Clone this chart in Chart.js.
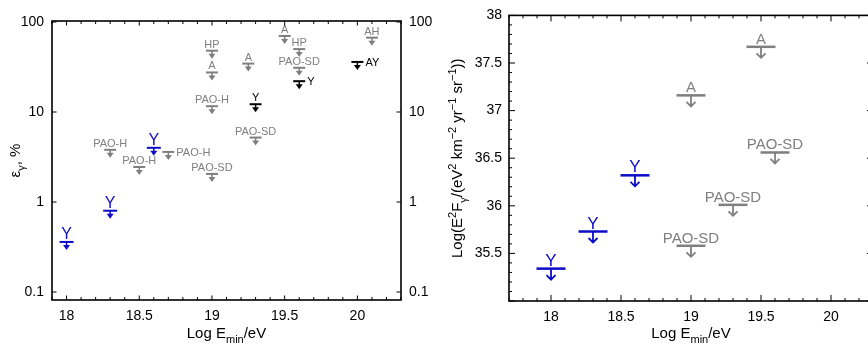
<!DOCTYPE html>
<html>
<head>
<meta charset="utf-8">
<script src="https://cdn.jsdelivr.net/npm/chart.js@4.4.0/dist/chart.umd.min.js"></script>
<style>
html, body { margin: 0; padding: 0; background: #fff; overflow: hidden; }
#leftBox { position: absolute; left: 0; top: 0; width: 440px; height: 347px; }
#rightBox { position: absolute; left: 440px; top: 0; width: 440px; height: 347px; }
</style>
</head>
<body>
<div id="leftBox"><canvas id="leftChart" width="440" height="347"></canvas></div>
<div id="rightBox"><canvas id="rightChart" width="440" height="347"></canvas></div>
<script>
// ---- left panel: photon fraction upper limits, %
const leftBlueX = [18, 18.3, 18.6];
const leftBlueY = [0.36, 0.8, 4.0];
const leftBlueText = ['Y', 'Y', 'Y'];

const leftBlackX = [19.3, 19.6, 20.0];
const leftBlackY = [12.2, 22, 36];
const leftBlackText = ['Y', 'Y', 'AY'];

const leftGrayX = [18.3, 18.5, 18.7, 19, 19, 19, 19, 19.25, 19.3, 19.5, 19.6, 19.6, 20.1];
const leftGrayY = [3.8, 2.45, 3.6, 48, 27.5, 11.6, 2.05, 34.5, 5.2, 70, 50, 31, 67];
const leftGrayText = ['PAO-H', 'PAO-H', 'PAO-H', 'HP', 'A', 'PAO-H', 'PAO-SD', 'A', 'PAO-SD', 'A', 'HP', 'PAO-SD', 'AH'];

const leftTicksX = [18, 18.5, 19, 19.5, 20];
const leftTicksY = [0.1, 1, 10, 100];

// ---- right panel: log of integral photon flux upper limits
const rightBlueX = [18, 18.3, 18.6];
const rightBlueY = [35.34, 35.73, 36.32];
const rightBlueText = ['Y', 'Y', 'Y'];

const rightGrayX = [19, 19.5, 19, 19.3, 19.6];
const rightGrayY = [37.16, 37.67, 35.58, 36.01, 36.56];
const rightGrayText = ['A', 'A', 'PAO-SD', 'PAO-SD', 'PAO-SD'];

const rightTicksX = [18, 18.5, 19, 19.5, 20];
const rightTicksY = [35.5, 36, 36.5, 37, 37.5, 38];

// labels drawn to the right of the marker instead of above (indices)
const leftGraySide = [2];
const leftBlackSide = [1, 2];

const GRAY = '#7f7f7f';
const BLUE = '#0b0bc8';
const BLACK = '#000000';
const FONT = "'Liberation Sans', Arial, Helvetica, sans-serif";

Chart.defaults.font.family = FONT;
Chart.defaults.font.size = 14;
Chart.defaults.color = '#000';

function pts(xs, ys) {
    return xs.map((x, i) => ({ x: x, y: ys[i] }));
}

function limitSet(xs, ys, text, color, look, side) {
    return {
        data: pts(xs, ys),
        pointRadius: 0,
        showLine: false,
        text: text,
        color: color,
        look: look,
        side: side || []
    };
}

function drawLimit(ctx, x, y, look, color) {
    ctx.save();
    ctx.strokeStyle = color;
    ctx.fillStyle = color;
    ctx.beginPath();
    ctx.lineWidth = look.lw;
    ctx.moveTo(x - look.bar / 2, y);
    ctx.lineTo(x + look.bar / 2, y);
    ctx.stroke();
    if (look.big) {
        ctx.lineWidth = 1.8;
        ctx.beginPath();
        ctx.moveTo(x, y);
        ctx.lineTo(x, y + 11);
        ctx.moveTo(x - 4.5, y + 6.5);
        ctx.lineTo(x, y + 11);
        ctx.lineTo(x + 4.5, y + 6.5);
        ctx.stroke();
    } else {
        ctx.lineWidth = 1.5;
        ctx.beginPath();
        ctx.moveTo(x, y);
        ctx.lineTo(x, y + 4);
        ctx.stroke();
        ctx.beginPath();
        ctx.moveTo(x - 3.5, y + 3);
        ctx.lineTo(x + 3.5, y + 3);
        ctx.lineTo(x, y + 8);
        ctx.closePath();
        ctx.fill();
    }
    ctx.restore();
}

// upper-limit markers with their experiment labels
const limitPlugin = {
    id: 'limits',
    afterDatasetsDraw(chart) {
        const ctx = chart.ctx;
        chart.data.datasets.forEach((ds, i) => {
            const meta = chart.getDatasetMeta(i);
            meta.data.forEach((pt, j) => {
                drawLimit(ctx, pt.x, pt.y, ds.look, ds.color);
                ctx.save();
                ctx.fillStyle = ds.color;
                ctx.font = ds.look.font + 'px ' + FONT;
                if (ds.side.includes(j)) {
                    ctx.textAlign = 'left';
                    ctx.textBaseline = 'middle';
                    ctx.fillText(ds.text[j], pt.x + ds.look.bar / 2 + 2, pt.y + 1);
                } else {
                    ctx.textAlign = 'center';
                    ctx.textBaseline = 'alphabetic';
                    ctx.fillText(ds.text[j], pt.x, pt.y - ds.look.gap);
                }
                ctx.restore();
            });
        });
    }
};

// frame and inward tick marks
const framePlugin = {
    id: 'frame',
    afterDraw(chart) {
        const ctx = chart.ctx;
        const a = chart.chartArea;
        const o = chart.options.plugins.frame;
        ctx.save();
        ctx.strokeStyle = '#000';
        ctx.lineWidth = 1;
        const xs = chart.scales.x;
        for (let k = Math.ceil(xs.min * 10 - 1e-6); k <= Math.floor(xs.max * 10 + 1e-6); k++) {
            const v = k / 10;
            const len = (k % 5 === 0) ? o.major : o.minor;
            const px = xs.getPixelForValue(v);
            ctx.beginPath();
            ctx.moveTo(px, a.bottom); ctx.lineTo(px, a.bottom - len);
            ctx.moveTo(px, a.top); ctx.lineTo(px, a.top + len);
            ctx.stroke();
        }
        const ys = chart.scales.y;
        let yv = [];
        if (ys.type === 'logarithmic') {
            ys.ticks.forEach(t => yv.push([t.value, o.major]));
        } else {
            for (let k = Math.ceil(ys.min * 10 - 1e-6); k <= Math.floor(ys.max * 10 + 1e-6); k++) {
                yv.push([k / 10, (k % 5 === 0) ? o.major : o.minor]);
            }
        }
        yv.forEach(([v, len]) => {
            const py = ys.getPixelForValue(v);
            ctx.beginPath();
            ctx.moveTo(a.left, py); ctx.lineTo(a.left + len, py);
            ctx.moveTo(a.right, py); ctx.lineTo(a.right - len, py);
            ctx.stroke();
        });
        ctx.lineWidth = 1.6;
        ctx.strokeRect(a.left, a.top, a.right - a.left, a.bottom - a.top);
        ctx.restore();
        drawRich(ctx, o.xTitle, (a.left + a.right) / 2, o.xTitleY, false, o.titleSize);
        drawRich(ctx, o.yTitle, o.yTitleX, (a.top + a.bottom) / 2, true, o.titleSize);
    }
};

// text with sub/superscripts, centred at (cx, cy)
function drawRich(ctx, segs, cx, cy, rotate, size) {
    const small = Math.round(size * 0.7);
    ctx.save();
    ctx.fillStyle = '#000';
    ctx.textBaseline = 'alphabetic';
    ctx.textAlign = 'left';
    let total = 0;
    const widths = segs.map(s => {
        ctx.font = (s.s ? small : size) + 'px ' + FONT;
        const w = ctx.measureText(s.t).width;
        total += w;
        return w;
    });
    ctx.translate(cx, cy);
    if (rotate) ctx.rotate(-Math.PI / 2);
    let x = -total / 2;
    const base = size * 0.36;
    segs.forEach((s, i) => {
        ctx.font = (s.s ? small : size) + 'px ' + FONT;
        let dy = base;
        if (s.s === 'sub') dy += size * 0.3;
        if (s.s === 'sup') dy -= size * 0.42;
        ctx.fillText(s.t, x, dy);
        x += widths[i];
    });
    ctx.restore();
}

function fixed(size, prop) {
    return function (axis) { axis[prop] = size; };
}

const xTitle = [{ t: 'Log E' }, { t: 'min', s: 'sub' }, { t: '/eV' }];

const smallGray = { bar: 12, lw: 2, big: false, font: 11, gap: 3 };
const smallBlue = { bar: 14, lw: 2, big: false, font: 16, gap: 3 };
const smallBlack = { bar: 12, lw: 2, big: false, font: 11, gap: 3 };
const bigGray = { bar: 29, lw: 2.5, big: true, font: 15, gap: 3 };
const bigBlue = { bar: 29, lw: 2.5, big: true, font: 17, gap: 3 };

new Chart(document.getElementById('leftChart'), {
    type: 'scatter',
    data: {
        datasets: [
            limitSet(leftGrayX, leftGrayY, leftGrayText, GRAY, smallGray, leftGraySide),
            limitSet(leftBlackX, leftBlackY, leftBlackText, BLACK, smallBlack, leftBlackSide),
            limitSet(leftBlueX, leftBlueY, leftBlueText, BLUE, smallBlue)
        ]
    },
    options: {
        responsive: false,
        animation: false,
        layout: { padding: { top: 21, left: 0, right: 0, bottom: 0 } },
        plugins: {
            legend: { display: false },
            tooltip: { enabled: false },
            frame: {
                major: 4.5, minor: 3,
                xTitle: xTitle, xTitleY: 333,
                yTitle: [{ t: 'ε' }, { t: 'γ', s: 'sub' }, { t: ', %' }], yTitleX: 15,
                titleSize: 15
            }
        },
        scales: {
            x: {
                type: 'linear', min: 17.9, max: 20.3,
                afterBuildTicks: axis => { axis.ticks = leftTicksX.map(v => ({ value: v })); },
                afterFit: fixed(47, 'height'),
                ticks: { padding: 8, callback: v => String(v) },
                grid: { display: false, drawTicks: false },
                border: { display: false }
            },
            y: {
                type: 'logarithmic', min: 0.0815, max: 102.6,
                afterBuildTicks: axis => { axis.ticks = leftTicksY.map(v => ({ value: v })); },
                afterFit: fixed(52, 'width'),
                ticks: { padding: 8, callback: v => String(v) },
                grid: { display: false, drawTicks: false },
                border: { display: false }
            },
            y2: {
                type: 'logarithmic', position: 'right', min: 0.0815, max: 102.6,
                afterBuildTicks: axis => { axis.ticks = leftTicksY.map(v => ({ value: v })); },
                afterFit: fixed(39, 'width'),
                ticks: { padding: 8, callback: v => String(v) },
                grid: { display: false, drawTicks: false },
                border: { display: false }
            }
        }
    },
    plugins: [limitPlugin, framePlugin]
});

new Chart(document.getElementById('rightChart'), {
    type: 'scatter',
    data: {
        datasets: [
            limitSet(rightGrayX, rightGrayY, rightGrayText, GRAY, bigGray),
            limitSet(rightBlueX, rightBlueY, rightBlueText, BLUE, bigBlue)
        ]
    },
    options: {
        responsive: false,
        animation: false,
        layout: { padding: { top: 12, left: 0, right: 7, bottom: 0 } },
        plugins: {
            legend: { display: false },
            tooltip: { enabled: false },
            frame: {
                major: 6, minor: 3,
                xTitle: xTitle, xTitleY: 333,
                yTitle: [
                    { t: 'Log(E' }, { t: '2', s: 'sup' }, { t: 'F' }, { t: 'γ', s: 'sub' },
                    { t: '/(eV' }, { t: '2', s: 'sup' }, { t: ' km' }, { t: '−2', s: 'sup' },
                    { t: ' yr' }, { t: '−1', s: 'sup' }, { t: ' sr' }, { t: '−1', s: 'sup' }, { t: '))' }
                ],
                yTitleX: 17,
                titleSize: 15
            }
        },
        scales: {
            x: {
                type: 'linear', min: 17.7, max: 20.3,
                afterBuildTicks: axis => { axis.ticks = rightTicksX.map(v => ({ value: v })); },
                afterFit: fixed(46, 'height'),
                ticks: { padding: 8, callback: v => String(v) },
                grid: { display: false, drawTicks: false },
                border: { display: false }
            },
            y: {
                type: 'linear', min: 35, max: 38,
                afterBuildTicks: axis => { axis.ticks = rightTicksY.map(v => ({ value: v })); },
                afterFit: fixed(69, 'width'),
                ticks: { padding: 7, callback: v => String(v) },
                grid: { display: false, drawTicks: false },
                border: { display: false }
            }
        }
    },
    plugins: [limitPlugin, framePlugin]
});
</script>
</body>
</html>
